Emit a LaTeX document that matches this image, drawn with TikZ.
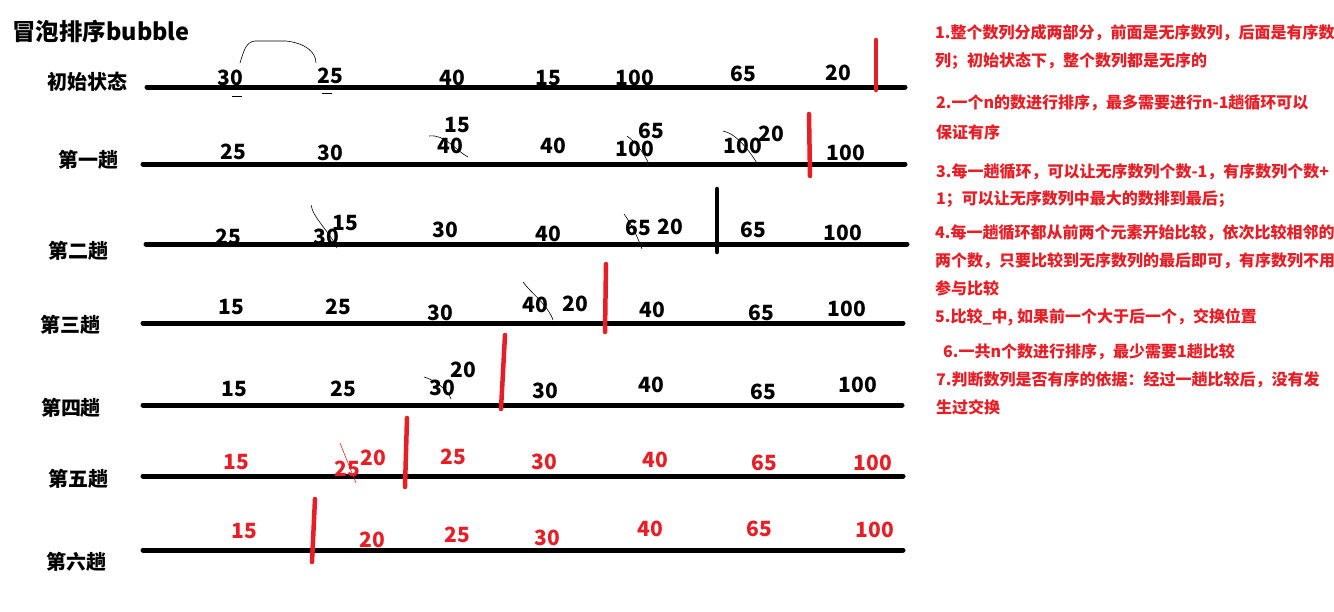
\documentclass[tikz,border=0pt]{standalone}
\usepackage{fontspec}
\newfontfamily\cjk{Noto Sans CJK SC}
\definecolor{pred}{RGB}{232,30,38}
\begin{document}
\begin{tikzpicture}[x=1pt,y=-1pt,
  num/.style={font=\cjk\bfseries\fontsize{21}{21}\selectfont, inner sep=0pt, anchor=center},
  rnum/.style={num, text=pred},
  lab/.style={font=\cjk\bfseries\fontsize{20}{20}\selectfont, inner sep=0pt},
  base/.style={line width=5pt, line cap=round},
  rbar/.style={line width=4.5pt, line cap=round, draw=pred},
  kbar/.style={line width=4.5pt, line cap=round, draw=black},
  scrib/.style={line width=0.6pt},
  note/.style={font=\cjk\bfseries\fontsize{16}{16}\selectfont, text=pred, anchor=west, inner sep=0pt}]
\useasboundingbox (0,0) rectangle (1334,611);
\fill[white] (0,0) rectangle (1334,611);

% title
\node[font=\cjk\bfseries\fontsize{23.5}{23.5}\selectfont, anchor=west, inner sep=0pt] (title) at (12,32) {冒泡排序bubble};

% row labels
\node[lab] (l0) at (87,82) {初始状态};
\node[lab] (l1) at (88,160) {第一趟};
\node[lab] (l2) at (78,251) {第二趟};
\node[lab] (l3) at (70,325) {第三趟};
\node[lab] (l4) at (71,408) {第四趟};
\node[lab] (l5) at (78,479) {第五趟};
\node[lab] (l6) at (76,562) {第六趟};

% base lines
\draw[base] (147,87) -- (905,87);
\draw[base] (143,164) -- (905,164);
\draw[base] (146,244) -- (907,244);
\draw[base] (143,323) -- (903,323);
\draw[base] (143,405) -- (902,405);
\draw[base] (143,476) -- (903,476);
\draw[base] (143,550) -- (903,550);

% row 0
\node[num] (a1) at (230,78) {30};
\node[num] (a2) at (330,76) {25};
\node[num] (a3) at (452,78) {40};
\node[num] (a4) at (548,78) {15};
\node[num] (a5) at (635,78) {100};
\node[num] (a6) at (743,74) {65};
\node[num] (a7) at (838,73) {20};
\draw[scrib] (240,63) .. controls (244,50) and (246,42) .. (255,41) -- (286,41) .. controls (305,43) and (316,52) .. (316,63);
\draw[line width=1pt] (232,96) -- (242,96);
\draw[line width=1pt] (322,93) -- (332,93);
\draw[rbar] (876,40) -- (876,90);

% row 1
\node[num] (b1) at (233,152) {25};
\node[num] (b2) at (330,153) {30};
\node[num] (b3) at (457,125) {15};
\node[num] (b4) at (450,146) {40};
\node[num] (b5) at (553,146) {40};
\node[num] (b6) at (635,149) {100};
\node[num] (b7) at (651,131) {65};
\node[num] (b8) at (743,146) {100};
\node[num] (b9) at (771,134) {20};
\node[num] (b10) at (846,153) {100};
\draw[scrib] (429,136) .. controls (445,134) and (455,150) .. (468,157);
\draw[scrib] (627,136) .. controls (635,142) and (642,150) .. (648,162);
\draw[scrib] (723,131) .. controls (735,133) and (750,150) .. (759,167);
\draw[rbar] (809,114) -- (810,176);

% row 2
\node[num] (c1) at (228,237) {25};
\node[num] (c2) at (326,237) {30};
\node[num] (c3) at (345,223) {15};
\node[num] (c4) at (445,230) {30};
\node[num] (c5) at (548,234) {40};
\node[num] (c6) at (638,228) {65};
\node[num] (c7) at (670,227) {20};
\node[num] (c8) at (753,230) {65};
\node[num] (c9) at (843,233) {100};
\draw[scrib] (311,205) .. controls (313,218) and (330,232) .. (337,248);
\draw[scrib] (624,214) .. controls (632,225) and (638,238) .. (642,249);
\draw[kbar] (717,189) -- (717,252);

% row 3
\node[num] (d1) at (231,307) {15};
\node[num] (d2) at (338,307) {25};
\node[num] (d3) at (440,313) {30};
\node[num] (d4) at (535,305) {40};
\node[num] (d5) at (575,304) {20};
\node[num] (d6) at (652,310) {40};
\node[num] (d7) at (761,313) {65};
\node[num] (d8) at (847,309) {100};
\draw[scrib] (523,282) .. controls (530,292) and (548,305) .. (553,320);
\draw[rbar] (606,264) -- (605,332);

% row 4
\node[num] (e1) at (234,389) {15};
\node[num] (e2) at (343,389) {25};
\node[num] (e3) at (442,388) {30};
\node[num] (e4) at (463,370) {20};
\node[num] (e5) at (545,391) {30};
\node[num] (e6) at (651,385) {40};
\node[num] (e7) at (763,392) {65};
\node[num] (e8) at (858,385) {100};
\draw[scrib] (424,377) .. controls (435,380) and (448,390) .. (451,399);
\draw[rbar] (505,335) -- (501,409);

% row 5
\node[rnum] (f1) at (236,462) {15};
\node[rnum] (f2) at (347,469) {25};
\node[rnum] (f3) at (373,458) {20};
\node[rnum] (f4) at (453,457) {25};
\node[rnum] (f5) at (544,462) {30};
\node[rnum] (f6) at (655,460) {40};
\node[rnum] (f7) at (764,463) {65};
\node[rnum] (f8) at (873,463) {100};
\draw[scrib, draw=pred] (340,443) -- (356,483);
\draw[rbar] (407,418) -- (405,487);

% row 6
\node[rnum] (g1) at (244,531) {15};
\node[rnum] (g2) at (372,540) {20};
\node[rnum] (g3) at (457,535) {25};
\node[rnum] (g4) at (547,538) {30};
\node[rnum] (g5) at (650,529) {40};
\node[rnum] (g6) at (759,529) {65};
\node[rnum] (g7) at (875,530) {100};
\draw[rbar] (315,499) -- (312,562);

% notes
\node[note] (n1a) at (935,33) {1.整个数列分成两部分，前面是无序数列，后面是有序数};
\node[note] (n1b) at (935,61) {列；初始状态下，整个数列都是无序的};
\node[note] (n2a) at (936,103) {2.一个n的数进行排序，最多需要进行n-1趟循环可以};
\node[note] (n2b) at (936,132) {保证有序};
\node[note] (n3a) at (936,172) {3.每一趟循环，可以让无序数列个数-1，有序数列个数+};
\node[note] (n3b) at (936,199) {1；可以让无序数列中最大的数排到最后；};
\node[note] (n4a) at (935,233) {4.每一趟循环都从前两个元素开始比较，依次比较相邻的};
\node[note] (n4b) at (935,261) {两个数，只要比较到无序数列的最后即可，有序数列不用};
\node[note] (n4c) at (935,288) {参与比较};
\node[note] (n5) at (935,317) {5.比较\_中, 如果前一个大于后一个，交换位置};
\node[note] (n6) at (943,352) {6.一共n个数进行排序，最少需要1趟比较};
\node[note] (n7a) at (936,380) {7.判断数列是否有序的依据：经过一趟比较后，没有发};
\node[note] (n7b) at (936,407) {生过交换};
\end{tikzpicture}
\end{document}
